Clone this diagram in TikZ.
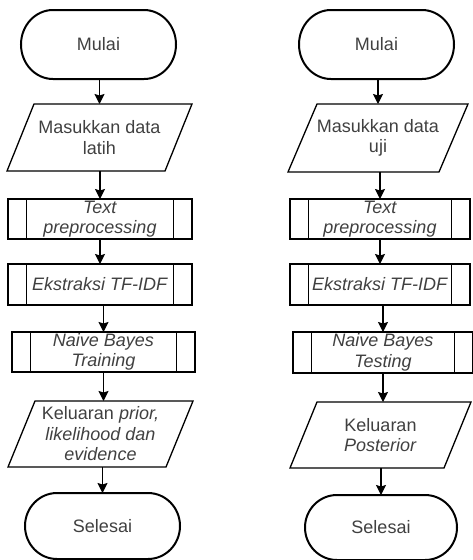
\documentclass[tikz,border=0pt]{standalone}
\usepackage{fontspec}
\setmainfont{Liberation Sans}
\usetikzlibrary{arrows.meta,calc}
\definecolor{txt}{HTML}{404040}

% outline of a start/end terminator around an invisible node
\newcommand\termoutline[1]{%
  \draw[termline]
    ($(#1.north west)+(32pt,0)$) -- ($(#1.north east)+(-32pt,0)$)
    arc[start angle=90,end angle=-90,x radius=32pt,y radius={\termry}]
    -- ($(#1.south west)+(32pt,0)$)
    arc[start angle=270,end angle=90,x radius=32pt,y radius={\termry}]
    -- cycle;}

% outline of an input/output parallelogram around an invisible node
\newcommand\iooutline[2]{%
  \draw[ioline]
    ($(#1.north west)+(#2,0)$) -- (#1.north east)
    -- ($(#1.south east)+(-#2,0)$) -- (#1.south west) -- cycle;}

\begin{document}
\begin{tikzpicture}[x=1pt,y=1pt,
  lbl/.style={inner sep=0pt, outer sep=0pt, text=txt,
    font=\fontsize{18}{20.5}\selectfont, align=center},
  termbox/.style={lbl, minimum width=155pt, minimum height=#1},
  termbox/.default=69pt,
  termline/.style={draw=black, line width=2pt},
  iobox/.style={lbl, minimum width=185pt, minimum height=67pt},
  ioline/.style={draw=black, line width=1.3pt, line join=miter},
  subproc/.style={lbl, draw=black, line width=1.3pt,
    minimum width=#1, minimum height=40pt,
    path picture={
      \draw[line width=1.3pt]
        ([xshift=18.5pt]path picture bounding box.north west) --
        ([xshift=18.5pt]path picture bounding box.south west);
      \draw[line width=1.3pt]
        ([xshift=-18.5pt]path picture bounding box.north east) --
        ([xshift=-18.5pt]path picture bounding box.south east);}},
  subproc/.default=184pt,
  arr/.style={draw=black, line width=1.3pt,
    -{Stealth[length=10pt,width=10pt,inset=1.5pt]}}
]
\useasboundingbox (0,0) rectangle (472,-560);
\def\termry{34.5pt}

% ---------- training flow ----------
\node[termbox] (mL) at (98.5,-44.5) {Mulai};
\node[iobox] (p1L) at (99.5,-137.5) {Masukkan data\\latih};
\node[subproc] (tpL) at (100,-219) {\textit{Text}\\\textit{preprocessing}};
\node[subproc, minimum height=41pt] (ekL) at (100,-284.5) {\textit{Ekstraksi TF-IDF}};
\node[subproc=183pt] (nbL) at (103.5,-352) {\textit{Naive Bayes}\\\textit{Training}};
\node[iobox, minimum height=66pt] (p2L) at (100.5,-434)
  {Keluaran \textit{prior,}\\\textit{likelihood dan}\\\textit{evidence}};
\node[termbox=66pt] (sL) at (102.5,-526) {Selesai};

\termoutline{mL}
\iooutline{p1L}{27pt}
\iooutline{p2L}{27pt}
\def\termry{33pt}
\termoutline{sL}

\draw[arr] (mL.south -| p1L.north) -- (p1L.north);
\draw[arr] (p1L.south -| tpL.north) -- (tpL.north);
\draw[arr] (tpL.south -| ekL.north) -- (ekL.north);
\draw[arr] (ekL.south -| nbL.north) -- (nbL.north);
\draw[arr] (nbL.south) -- (nbL.south |- p2L.north);
\draw[arr] (p2L.south -| sL.north) -- (sL.north);

% ---------- testing flow ----------
\def\termry{34.5pt}
\node[termbox] (mR) at (376.5,-44.5) {Mulai};
\node[iobox, minimum width=180pt, minimum height=68pt] (p1R) at (378,-138) {Masukkan data\\uji};
\node[subproc=180pt] (tpR) at (380,-219) {\textit{Text}\\\textit{preprocessing}};
\node[subproc=180pt, minimum height=41pt] (ekR) at (380,-284.5) {\textit{Ekstraksi TF-IDF}};
\node[subproc=180pt, minimum height=41pt] (nbR) at (383,-352.5) {\textit{Naive Bayes}\\\textit{Testing}};
\node[iobox, minimum width=181pt, minimum height=66pt] (p2R) at (380.5,-435)
  {Keluaran\\\textit{Posterior}};
\node[termbox=65pt, minimum width=152pt] (sR) at (381,-527.5) {Selesai};

\termoutline{mR}
\iooutline{p1R}{29pt}
\iooutline{p2R}{27pt}
\def\termry{32.5pt}
\termoutline{sR}

\draw[arr] (mR.south -| p1R.north) -- (p1R.north);
\draw[arr] (p1R.south -| tpR.north) -- (tpR.north);
\draw[arr] (tpR.south -| ekR.north) -- (ekR.north);
\draw[arr] (ekR.south -| nbR.north) -- (nbR.north);
\draw[arr] (nbR.south) -- (nbR.south |- p2R.north);
\draw[arr] (p2R.south -| sR.north) -- (sR.north);
\end{tikzpicture}
\end{document}
